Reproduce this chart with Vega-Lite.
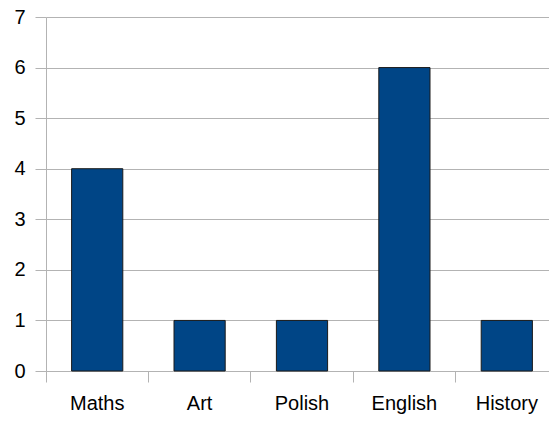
{
  "$schema": "https://vega.github.io/schema/vega-lite/v6.json",
  "width": 512,
  "height": 354,
  "autosize": {"type": "none"},
  "padding": {"left": 46, "top": 17, "right": 0, "bottom": 50},
  "background": "white",
  "config": {"view": {"stroke": null}},
  "data": {"values": [
    {"subject": "Maths", "value": 4},
    {"subject": "Art", "value": 1},
    {"subject": "Polish", "value": 1},
    {"subject": "English", "value": 6},
    {"subject": "History", "value": 1}
  ]},
  "mark": {"type": "bar", "width": {"band": 0.5}, "fill": "#004586", "stroke": "#1a1a1a", "strokeWidth": 1},
  "encoding": {
    "x": {
      "field": "subject", "type": "nominal", "sort": null, "title": null,
      "scale": {"paddingInner": 0, "paddingOuter": 0},
      "axis": {
        "bandPosition": 0, "labelAngle": 0, "labelFont": "Liberation Sans", "labelFontSize": 20,
        "labelColor": "#000000", "domainColor": "#b3b3b3", "tickColor": "#b3b3b3",
        "tickSize": 11, "labelPadding": 11, "grid": false
      }
    },
    "y": {
      "field": "value", "type": "quantitative", "title": null,
      "scale": {"domain": [0, 7], "nice": false},
      "axis": {
        "values": [0, 1, 2, 3, 4, 5, 6, 7], "labelFont": "Liberation Sans", "labelFontSize": 20,
        "labelColor": "#000000", "domainColor": "#b3b3b3", "tickColor": "#b3b3b3",
        "gridColor": "#b3b3b3", "tickSize": 11, "labelPadding": 10
      }
    }
  }
}
